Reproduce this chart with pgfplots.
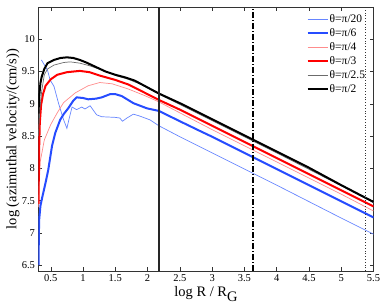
\documentclass[border=0pt]{standalone}
\usepackage{pgfplots}
\pgfplotsset{compat=1.18}
\usepackage{fontspec}
\setmainfont{Liberation Serif}
\definecolor{bthin}{rgb}{0.40,0.52,1.00}
\definecolor{bthick}{rgb}{0.15,0.30,1.00}
\definecolor{pthin}{rgb}{1.00,0.55,0.55}
\definecolor{rthick}{rgb}{1.00,0.00,0.00}
\definecolor{gthin}{rgb}{0.42,0.42,0.42}
\begin{document}
\begin{tikzpicture}
\begin{axis}[
  scale only axis, width=335pt, height=264pt,
  xmin=0.31, xmax=5.5, ymin=6.41, ymax=10.5,
  xtick={0.5,1,1.5,2,2.5,3,3.5,4,4.5,5,5.5},
  xticklabels={0.5,1,1.5,2,2.5,3,3.5,4,4.5,5,5.5},
  ytick={6.5,7,7.5,8,8.5,9,9.5,10},
  yticklabels={6.5,7,7.5,8,8.5,9,9.5,10},
  tick align=inside, major tick length=4pt,
  tick style={black!80, line width=0.5pt},
  axis line style={black!80, line width=0.6pt},
  ticklabel style={font=\fontsize{10.5}{12}\selectfont},
  /pgf/number format/assume math mode=true,
  xlabel={log R / R\raisebox{-5pt}{G}},
  xlabel style={at={(axis description cs:0.5,0)}, anchor=base, yshift=-26pt, inner sep=0pt, font=\fontsize{14.5}{16}\selectfont},
  ylabel={log (azimuthal velocity/(cm/s))},
  ylabel style={at={(axis description cs:-0.0657,0.5)}, anchor=base, inner sep=0pt, font=\fontsize{14.5}{16}\selectfont},
  legend style={at={(axis description cs:0.8,0.977)}, anchor=north west, draw=none, fill=none,
     font=\fontsize{11.5}{13}\selectfont, inner sep=0pt, row sep=2.5pt, nodes={inner sep=1pt}},
  legend cell align=left,
  legend image code/.code={\draw[#1] (0pt,0pt) -- (20pt,0pt);},
]
% theta = pi/20
\addplot[bthin, line width=0.7pt] coordinates {
(0.355,9.68) (0.45,9.52) (0.49,9.37) (0.55,9.27) (0.62,9.01) (0.70,8.75) (0.75,8.62)
(0.78,8.75) (0.83,8.95) (0.90,8.91) (0.98,8.95) (1.03,8.92) (1.11,8.97) (1.21,8.83)
(1.29,8.80) (1.5,8.79) (1.57,8.78) (1.61,8.73) (1.68,8.78) (1.78,8.84) (1.88,8.81)
(2.04,8.75) (2.175,8.66) (2.5,8.49) (3.0,8.24) (4.0,7.74) (5.0,7.23) (5.5,6.98)};
\addlegendentry{θ=π/20}
% theta = pi/6
\addplot[bthick, line width=2pt] coordinates {
(0.31,6.5) (0.315,6.9) (0.32,7.2) (0.34,7.42) (0.37,7.56) (0.42,7.78) (0.46,7.97)
(0.52,8.35) (0.57,8.55) (0.645,8.75) (0.7,8.84) (0.77,8.93) (0.85,9.05) (0.9,9.1)
(1.0,9.09) (1.08,9.07) (1.2,9.08) (1.29,9.10) (1.42,9.15) (1.5,9.15) (1.6,9.12)
(1.78,9.01) (1.99,8.93) (2.175,8.89) (2.5,8.73) (2.81,8.58) (3.0,8.49) (4.0,7.99)
(5.0,7.49) (5.5,7.24)};
\addlegendentry{θ=π/6}
% theta = pi/4
\addplot[pthin, line width=0.7pt] coordinates {
(0.31,7.4) (0.32,7.75) (0.34,8.12) (0.40,8.44) (0.5,8.68) (0.6,8.86) (0.7,9.02)
(0.88,9.17) (1.08,9.28) (1.26,9.33) (1.45,9.31) (1.7,9.23) (1.95,9.13) (2.175,9.03)
(2.5,8.86) (3.0,8.6) (4.0,8.1) (5.0,7.6) (5.5,7.34)};
\addlegendentry{θ=π/4}
% theta = pi/3
\addplot[rthick, line width=2pt] coordinates {
(0.31,7.45) (0.315,7.9) (0.32,8.3) (0.33,8.7) (0.35,8.98) (0.38,9.15) (0.42,9.28)
(0.5,9.38) (0.6,9.45) (0.75,9.49) (0.95,9.51) (1.1,9.49) (1.25,9.44) (1.5,9.37)
(1.7,9.3) (1.9,9.2) (2.175,9.06) (2.5,8.91) (3.0,8.66) (4.0,8.16) (5.0,7.66) (5.5,7.41)};
\addlegendentry{θ=π/3}
% theta = pi/2.5
\addplot[gthin, line width=0.7pt] coordinates {
(0.31,8.5) (0.33,8.9) (0.36,9.2) (0.40,9.45) (0.45,9.54) (0.55,9.6) (0.7,9.64)
(0.8,9.65) (0.95,9.63) (1.1,9.59) (1.3,9.52) (1.5,9.44) (1.7,9.38) (1.9,9.3)
(2.175,9.15) (2.5,8.99) (3.0,8.74) (4.0,8.24) (5.0,7.73) (5.5,7.47)};
\addlegendentry{θ=π/2.5}
% theta = pi/2
\addplot[black, line width=2pt] coordinates {
(0.31,8.85) (0.32,9.1) (0.34,9.32) (0.36,9.42) (0.40,9.54) (0.45,9.63) (0.55,9.68)
(0.65,9.71) (0.75,9.72) (0.85,9.71) (0.95,9.68) (1.05,9.64) (1.2,9.57) (1.35,9.5)
(1.5,9.45) (1.65,9.41) (1.8,9.36) (1.95,9.28) (2.1,9.2) (2.175,9.16) (2.5,9.01)
(3.0,8.76) (3.5,8.51) (4.0,8.26) (4.5,8.01) (5.0,7.74) (5.5,7.48)};
\addlegendentry{θ=π/2}
% vertical markers
\addplot[black!85, line width=2pt, forget plot] coordinates {(2.175,6.41) (2.175,10.5)};
\addplot[black, line width=2pt, dash pattern=on 6pt off 2pt on 1pt off 2pt, forget plot] coordinates {(3.64,6.41) (3.64,10.5)};
\addplot[black!80, line width=0.8pt, dotted, forget plot] coordinates {(5.375,6.41) (5.375,10.5)};
\end{axis}
\pgfresetboundingbox
\path[use as bounding box] ([xshift=-38.5pt,yshift=-36pt]current axis.south west) rectangle ([xshift=11.5pt,yshift=7pt]current axis.north east);
\end{tikzpicture}
\end{document}
